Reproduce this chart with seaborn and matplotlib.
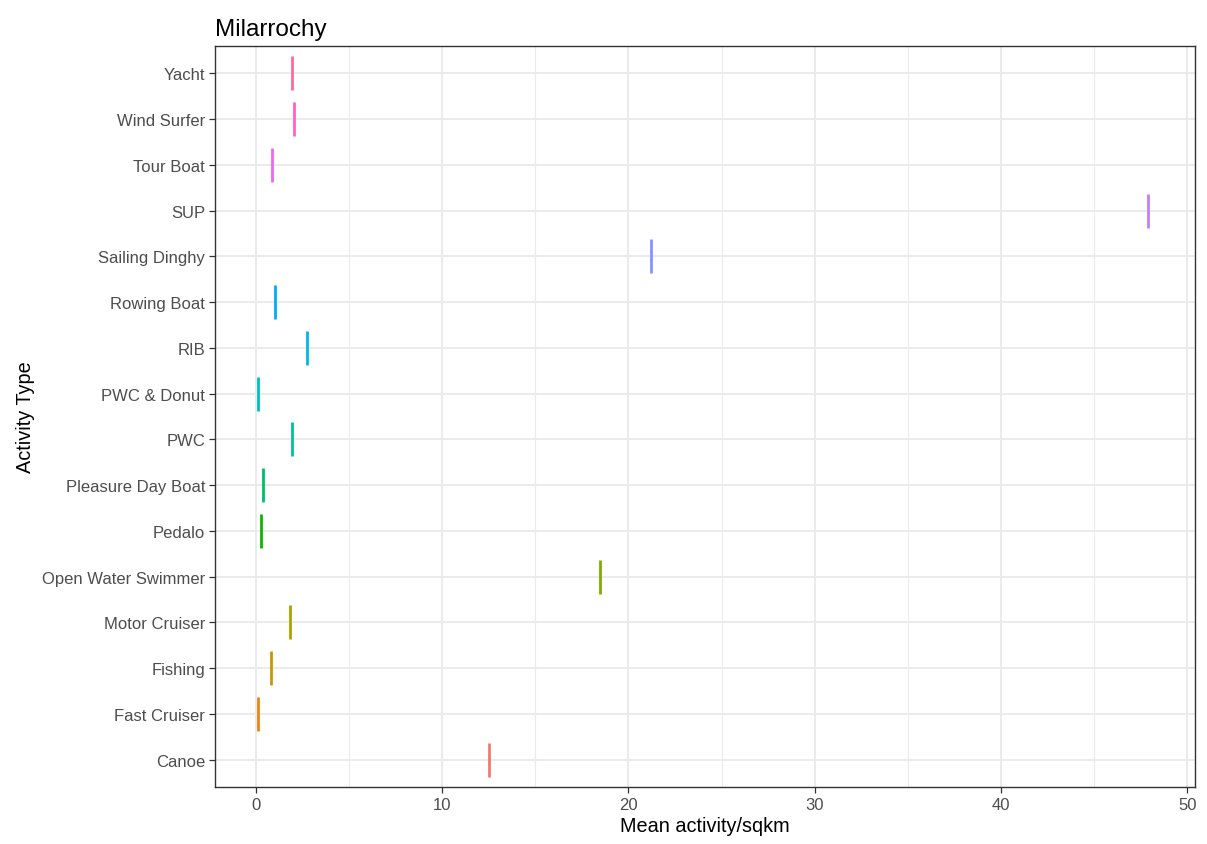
import numpy as np
import pandas as pd
import matplotlib
matplotlib.use("Agg")
import matplotlib.pyplot as plt
import seaborn as sns

# data (alphabetical, Canoe first = bottom)
activities = ["Canoe", "Fast Cruiser", "Fishing", "Motor Cruiser", "Open Water Swimmer",
              "Pedalo", "Pleasure Day Boat", "PWC", "PWC & Donut", "RIB", "Rowing Boat",
              "Sailing Dinghy", "SUP", "Tour Boat", "Wind Surfer", "Yacht"]
mean_activity = [12.53, 0.13, 0.81, 1.85, 18.47,
                 0.30, 0.38, 1.93, 0.13, 2.76, 1.05,
                 21.23, 47.9, 0.89, 2.07, 1.93]


def hue_pal(n, l=65, c=100, h0=15, h1=375):
    # ggplot2 style default discrete colours (HCL / polar Luv)
    hues = np.linspace(h0, h1, n + 1)[:n]
    Xn, Yn, Zn = 95.047, 100.0, 108.883
    un = 4 * Xn / (Xn + 15 * Yn + 3 * Zn)
    vn = 9 * Yn / (Xn + 15 * Yn + 3 * Zn)
    out = []
    for h in hues:
        u = c * np.cos(np.radians(h))
        v = c * np.sin(np.radians(h))
        Y = Yn * ((l + 16) / 116) ** 3
        up = u / (13 * l) + un
        vp = v / (13 * l) + vn
        X = Y * 9 * up / (4 * vp)
        Z = Y * (12 - 3 * up - 20 * vp) / (4 * vp)
        X, Y, Z = X / 100, Y / 100, Z / 100
        r = 3.2404542 * X - 1.5371385 * Y - 0.4985314 * Z
        g = -0.9692660 * X + 1.8760108 * Y + 0.0415560 * Z
        b = 0.0556434 * X - 0.2040259 * Y + 1.0572252 * Z
        rgb = []
        for ch in (r, g, b):
            ch = 12.92 * ch if ch <= 0.0031308 else 1.055 * ch ** (1 / 2.4) - 0.055
            rgb.append(min(max(ch, 0), 1))
        out.append(tuple(rgb))
    return out


colors = dict(zip(activities, hue_pal(len(activities))))
df = pd.DataFrame({"activity": activities, "mean": mean_activity})

sns.set_style("white")
plt.rcParams["font.family"] = ["Liberation Sans", "DejaVu Sans"]

fig = plt.figure(figsize=(12.07, 8.45), dpi=100)
ax = fig.add_axes([0.178, 0.0675, 0.812, 0.877])

sns.stripplot(data=df, x="mean", y="activity", hue="activity", palette=colors,
              order=activities[::-1], jitter=False, marker="|", size=25,
              linewidth=2.0, legend=False, ax=ax)

ax.set_xlim(-2.2, 50.4)
ax.set_ylim(len(activities) - 0.4, -0.6)
ax.set_xticks([0, 10, 20, 30, 40, 50])
ax.set_xticks([5, 15, 25, 35, 45], minor=True)
ax.grid(True, which="major", color="#EBEBEB", linewidth=1.4)
ax.grid(True, which="minor", axis="x", color="#EBEBEB", linewidth=0.8)
ax.set_axisbelow(True)
for s in ax.spines.values():
    s.set_visible(True)
    s.set_color("#333333")
    s.set_linewidth(1.0)
ax.tick_params(axis="both", which="major", direction="out", length=4, width=0.9,
               bottom=True, left=True, color="#333333", labelcolor="#4D4D4D",
               labelsize=12, pad=3)
ax.tick_params(axis="x", which="minor", length=0)

ax.set_xlabel("Mean activity/sqkm", fontsize=14.3, color="black", labelpad=3)
ax.set_ylabel("Activity Type", fontsize=14.3, color="black", labelpad=5)
ax.set_title("Milarrochy", loc="left", fontsize=17.5, color="black", pad=8)

fig.savefig("out.png", dpi=100)
